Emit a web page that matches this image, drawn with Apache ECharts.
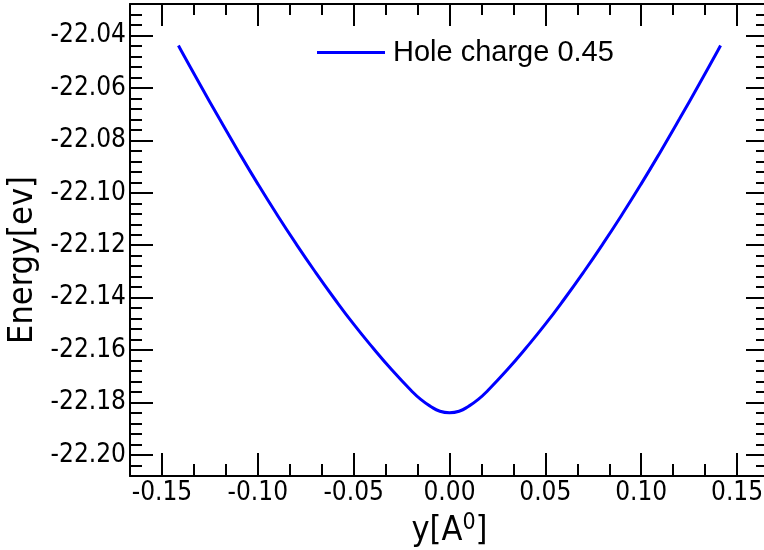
<!DOCTYPE html>
<html>
<head>
<meta charset="utf-8">
<title>Hole charge 0.45</title>
<script src="https://cdn.jsdelivr.net/npm/echarts@6/dist/echarts.min.js"></script>
<style>
	html, body { margin: 0; padding: 0; background: #fff; }
	#main { width: 764px; height: 550px; }
</style>
</head>
<body>
<div id="main"></div>
<script>
	// y position [A0] and energy [ev]
	var yPos = [-0.1414, -0.14, -0.13, -0.12, -0.11, -0.10, -0.09, -0.08, -0.07, -0.06, -0.05, -0.04, -0.03, -0.02, -0.015, -0.01, -0.005,
		0, 0.005, 0.01, 0.015, 0.02, 0.03, 0.04, 0.05, 0.06, 0.07, 0.08, 0.09, 0.10, 0.11, 0.12, 0.13, 0.14, 0.1414];
	var energy = [-22.0438, -22.0457, -22.0589, -22.0718, -22.0844, -22.0966, -22.1083, -22.1195, -22.1302, -22.1404, -22.1501, -22.1591, -22.1676, -22.1754, -22.1788, -22.1814, -22.1833,
		-22.1839, -22.1833, -22.1814, -22.1788, -22.1754, -22.1676, -22.1591, -22.1501, -22.1404, -22.1302, -22.1195, -22.1083, -22.0966, -22.0844, -22.0718, -22.0589, -22.0457, -22.0438];

	var xTicks = [-0.15, -0.10, -0.05, 0.00, 0.05, 0.10, 0.15];
	var yTicks = [-22.20, -22.18, -22.16, -22.14, -22.12, -22.10, -22.08, -22.06, -22.04];

	var xMin = -1 / 6, xMax = 1 / 6;
	var yMin = -22.208, yMax = -22.028;

	// minor ticks: 3 parts between x labels, 5 parts between y labels
	var xMinor = [];
	for (var i = -10; i <= 10; i++) {
		if (i % 3 != 0 && Math.abs(i) != 10) xMinor.push(i / 60);
	}
	var yMinor = [];
	for (var k = 1; k < 45; k++) {
		if ((k - 2) % 5 != 0) yMinor.push(+(yMin + k * 0.004).toFixed(4));
	}

	var tickFont = 'DejaVu Sans Condensed';
	var lineStyle = { color: '#000', width: 2 };
	// right edge of the frame lies just outside the picture
	var rect = { left: 130, top: 4, width: 639, height: 472, containLabel: false, outerBoundsMode: 'none' };

	function axisOf(pos, grid, values, len, withLine, withLabel, labels) {
		var horizontal = pos == 'bottom' || pos == 'top';
		return {
			type: 'value', position: pos, gridIndex: grid,
			min: horizontal ? xMin : yMin, max: horizontal ? xMax : yMax,
			axisLine: { show: withLine, onZero: false, lineStyle: lineStyle },
			axisTick: { show: true, inside: true, length: len, customValues: values, lineStyle: lineStyle },
			axisLabel: withLabel ? {
				show: true, customValues: labels, margin: 4, color: '#000',
				fontFamily: tickFont, fontSize: 26,
				formatter: function (v) { return v.toFixed(2); }
			} : { show: false },
			splitLine: { show: false }
		};
	}

	var xBottom = axisOf('bottom', 0, xTicks, 23, true, true, xTicks);
	xBottom.name = 'y[A{sup|0}]';
	xBottom.nameLocation = 'middle';
	xBottom.nameGap = 36;
	xBottom.nameTextStyle = {
		fontFamily: tickFont, fontSize: 34, color: '#000',
		rich: { sup: { fontFamily: tickFont, fontSize: 23, color: '#000', verticalAlign: 'top', padding: [0, 0, 16, 0] } }
	};

	var yLeft = axisOf('left', 0, yTicks, 23, true, true, yTicks);
	yLeft.name = 'Energy[ev]';
	yLeft.nameLocation = 'middle';
	yLeft.nameGap = 83;
	yLeft.nameTextStyle = { fontFamily: tickFont, fontSize: 34, color: '#000', padding: [0, 40, 0, 0] };

	var myChart = echarts.init(document.getElementById('main'));
	var option = {
		animation: false,
		backgroundColor: '#fff',
		// second grid on the same place only carries the minor ticks
		grid: [rect, rect],
		legend: {
			left: 317, top: 38, padding: 0,
			itemWidth: 68, itemHeight: 3,
			textStyle: { fontFamily: 'Liberation Sans', fontSize: 29, color: '#000', padding: [0, 0, 0, 3] },
			data: [{ name: 'Hole charge 0.45', icon: 'rect' }]
		},
		xAxis: [
			xBottom,
			axisOf('top', 0, xTicks, 22, true, false),
			axisOf('bottom', 1, xMinor, 12, false, false),
			axisOf('top', 1, xMinor, 11, false, false)
		],
		yAxis: [
			yLeft,
			axisOf('right', 0, yTicks, 23, true, false),
			axisOf('left', 1, yMinor, 12, false, false),
			axisOf('right', 1, yMinor, 13, false, false)
		],
		series: [
			{
				name: 'Hole charge 0.45',
				type: 'line',
				xAxisIndex: 0,
				yAxisIndex: 0,
				smooth: true,
				symbol: 'none',
				color: '#0000ff',
				lineStyle: { width: 3, color: '#0000ff' },
				data: yPos.map(function (x, i) { return [x, energy[i]]; })
			}
		]
	};
	myChart.setOption(option);
</script>
</body>
</html>
